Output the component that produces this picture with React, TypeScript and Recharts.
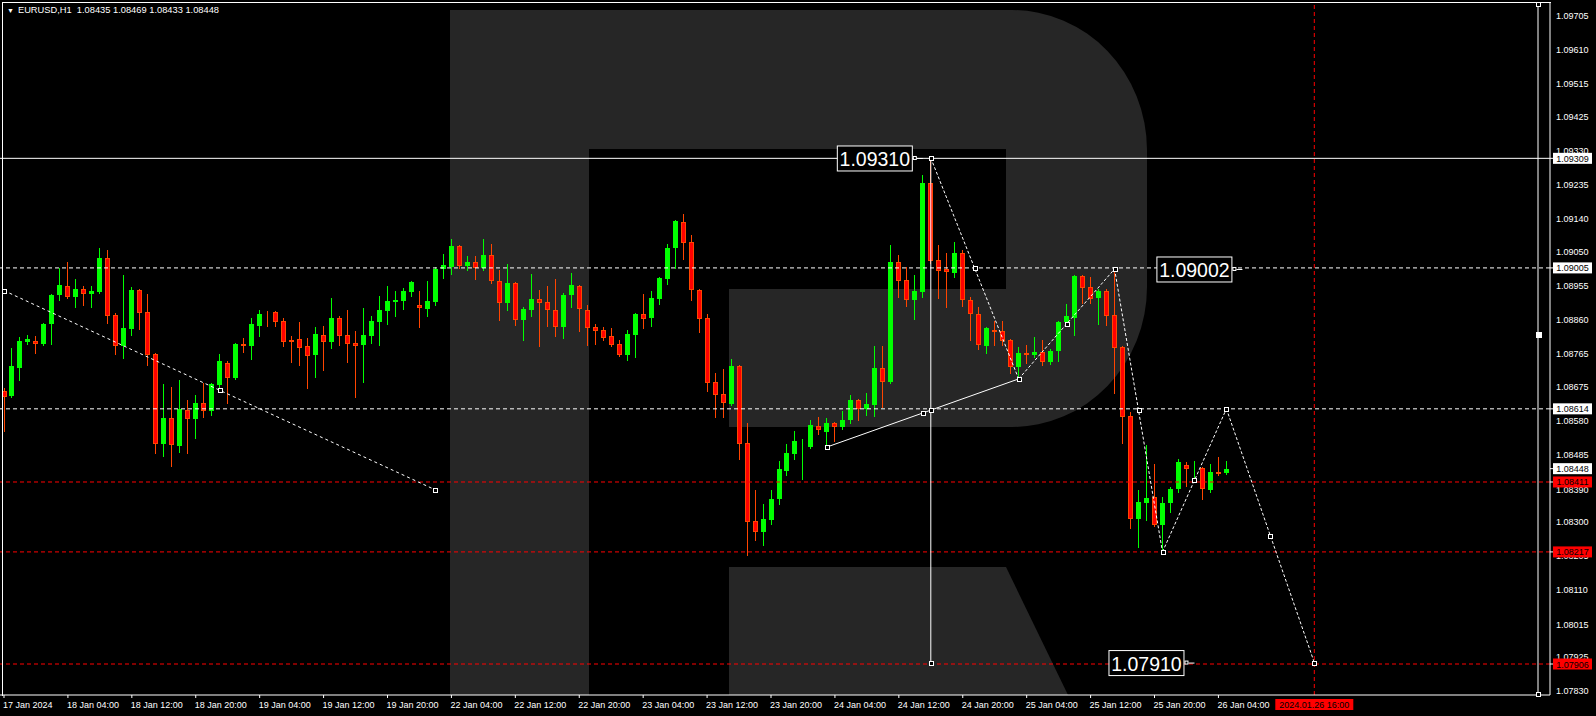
import { ComposedChart, Bar, XAxis, YAxis, ReferenceLine, ReferenceDot } from 'recharts';

// EURUSD H1 candles, 17 Jan 20:00 .. 26 Jan 05:00
const opens = [
  1.08663, 1.0865, 1.08727, 1.08799, 1.08802, 1.08794, 1.08849, 1.0893, 1.08955, 1.08924,
  1.08946, 1.08933, 1.08938, 1.09033, 1.08874, 1.08788, 1.08835, 1.08944, 1.08883, 1.08766,
  1.08516, 1.08589, 1.08511, 1.08611, 1.08586, 1.0863, 1.08608, 1.0868, 1.08741, 1.087,
  1.08794, 1.08788, 1.08844, 1.08874, 1.08883, 1.08858, 1.08805, 1.08808, 1.08788, 1.08763,
  1.08819, 1.08799, 1.08866, 1.08819, 1.08797, 1.08791, 1.08816, 1.08855, 1.08885, 1.0891,
  1.08913, 1.08938, 1.08902, 1.08891, 1.0891, 1.09002, 1.09008, 1.09066, 1.0901, 1.09021,
  1.09005, 1.09041, 1.08969, 1.08908, 1.08963, 1.0886, 1.08888, 1.08919, 1.0891, 1.08888,
  1.08841, 1.0893, 1.08955, 1.08888, 1.08841, 1.08833, 1.08816, 1.08794, 1.08763, 1.08819,
  1.08877, 1.08866, 1.08919, 1.08974, 1.0906, 1.09132, 1.09077, 1.08944, 1.08866, 1.08688,
  1.08655, 1.08627, 1.08733, 1.08519, 1.08303, 1.08272, 1.08305, 1.08364, 1.08441, 1.08489,
  1.08505, 1.08508, 1.08566, 1.0855, 1.08575, 1.08564, 1.08583, 1.08638, 1.08614, 1.08625,
  1.08727, 1.08688, 1.09021, 1.08972, 1.08916, 1.08938, 1.09241, 1.09027, 1.09002, 1.08991,
  1.09046, 1.08916, 1.08877, 1.08788, 1.08833, 1.0883, 1.08805, 1.0873, 1.08769, 1.08763,
  1.08772, 1.08744, 1.08774, 1.08855, 1.08866, 1.08983, 1.08952, 1.08922, 1.08941, 1.08874,
  1.08786, 1.08594, 1.08308, 1.08353, 1.08369, 1.08292, 1.08353, 1.08392, 1.08458, 1.08447,
  1.0845, 1.08389, 1.08439, 1.08435,
];
const highs = [
  1.08672, 1.08783, 1.08813, 1.08819, 1.08816, 1.08852, 1.08933, 1.09005, 1.09021, 1.08974,
  1.08955, 1.08955, 1.0906, 1.09055, 1.0888, 1.08985, 1.08952, 1.08946, 1.08933, 1.08769,
  1.08683, 1.08675, 1.08694, 1.08638, 1.08652, 1.08686, 1.08686, 1.08766, 1.08747, 1.08797,
  1.0881, 1.08866, 1.08888, 1.08885, 1.08885, 1.08866, 1.08816, 1.08855, 1.0881, 1.08841,
  1.08844, 1.08922, 1.08872, 1.08888, 1.0883, 1.08894, 1.08872, 1.08927, 1.08955, 1.08941,
  1.08949, 1.08969, 1.08941, 1.08969, 1.09008, 1.09044, 1.09085, 1.09069, 1.09038, 1.09038,
  1.09085, 1.09071, 1.08999, 1.09016, 1.08966, 1.08897, 1.08988, 1.08944, 1.08955, 1.08974,
  1.08935, 1.08991, 1.08958, 1.08902, 1.08849, 1.08841, 1.08838, 1.08805, 1.08833, 1.0888,
  1.08933, 1.08941, 1.0898, 1.09071, 1.09138, 1.09155, 1.09096, 1.08946, 1.08877, 1.08713,
  1.08725, 1.08752, 1.08736, 1.08575, 1.08389, 1.0835, 1.08389, 1.08469, 1.08516, 1.08552,
  1.0853, 1.08583, 1.08591, 1.08589, 1.08577, 1.08608, 1.08652, 1.08641, 1.08658, 1.08788,
  1.08788, 1.09069, 1.09041, 1.09008, 1.08985, 1.09263, 1.0931, 1.09069, 1.09046, 1.09077,
  1.09055, 1.08924, 1.08897, 1.08841, 1.08858, 1.08858, 1.08808, 1.08786, 1.08791, 1.08813,
  1.08805, 1.0878, 1.08858, 1.08905, 1.08985, 1.08985, 1.0898, 1.08946, 1.08946, 1.09002,
  1.08788, 1.08605, 1.08389, 1.08514, 1.08461, 1.08369, 1.08397, 1.08475, 1.08466, 1.08469,
  1.08453, 1.08461, 1.0848, 1.08469,
];
const lows = [
  1.08552, 1.08648, 1.08694, 1.08794, 1.08769, 1.08792, 1.08794, 1.08916, 1.08922, 1.08897,
  1.08902, 1.08897, 1.08935, 1.08852, 1.08766, 1.08755, 1.08819, 1.08835, 1.08736, 1.08491,
  1.08483, 1.08455, 1.08494, 1.08491, 1.08533, 1.08591, 1.08597, 1.08669, 1.0863, 1.08697,
  1.08772, 1.08752, 1.08816, 1.08844, 1.08844, 1.08788, 1.08744, 1.08736, 1.08672, 1.08702,
  1.08722, 1.08783, 1.08791, 1.08744, 1.08647, 1.08688, 1.08797, 1.08791, 1.08849, 1.08872,
  1.08891, 1.08927, 1.08841, 1.08872, 1.08902, 1.08977, 1.08988, 1.09005, 1.08999, 1.08974,
  1.08999, 1.08963, 1.0886, 1.08888, 1.08847, 1.08805, 1.08872, 1.08788, 1.08844, 1.08816,
  1.0881, 1.08897, 1.0883, 1.08791, 1.08794, 1.08805, 1.08788, 1.08761, 1.0875, 1.08758,
  1.08838, 1.08844, 1.08905, 1.0896, 1.09005, 1.0903, 1.08916, 1.08827, 1.08663, 1.08591,
  1.08591, 1.08624, 1.08475, 1.08209, 1.0825, 1.08236, 1.08294, 1.0835, 1.0843, 1.08475,
  1.08419, 1.08505, 1.08544, 1.08508, 1.08525, 1.08558, 1.08575, 1.08583, 1.08597, 1.08594,
  1.08619, 1.08685, 1.08924, 1.08899, 1.08863, 1.08924, 1.09018, 1.08922, 1.08897, 1.0898,
  1.08899, 1.08805, 1.0878, 1.08769, 1.08791, 1.08791, 1.08713, 1.08702, 1.08741, 1.08758,
  1.08736, 1.08738, 1.08747, 1.08844, 1.08819, 1.08908, 1.08908, 1.08849, 1.08847, 1.08658,
  1.08519, 1.08283, 1.08231, 1.08305, 1.08289, 1.08217, 1.08328, 1.08383, 1.084, 1.08422,
  1.08364, 1.08383, 1.0843, 1.08433,
];
const closes = [
  1.08647, 1.08733, 1.08802, 1.08808, 1.08794, 1.08849, 1.0893, 1.08958, 1.08924, 1.08946,
  1.08933, 1.08941, 1.09033, 1.08872, 1.08788, 1.08838, 1.08944, 1.0888, 1.08763, 1.08516,
  1.08589, 1.08514, 1.08614, 1.08586, 1.0863, 1.08608, 1.08683, 1.08747, 1.087, 1.08794,
  1.08788, 1.08849, 1.08877, 1.08872, 1.08855, 1.08799, 1.08799, 1.08783, 1.08761, 1.08822,
  1.08799, 1.08866, 1.08816, 1.08794, 1.08788, 1.08819, 1.08858, 1.08888, 1.08913, 1.08916,
  1.08941, 1.08966, 1.08894, 1.08913, 1.09002, 1.09013, 1.09066, 1.0901, 1.09021, 1.09005,
  1.09041, 1.08969, 1.08908, 1.08963, 1.0886, 1.08891, 1.08919, 1.08908, 1.08888, 1.08841,
  1.0893, 1.08958, 1.08891, 1.08838, 1.0883, 1.0881, 1.08791, 1.08763, 1.08822, 1.08877,
  1.08863, 1.08922, 1.08977, 1.0906, 1.09135, 1.09074, 1.08944, 1.08863, 1.08686, 1.08652,
  1.0863, 1.08733, 1.08516, 1.083, 1.08272, 1.08308, 1.08364, 1.08447, 1.08491, 1.08525,
  1.08508, 1.08569, 1.08555, 1.08575, 1.08564, 1.08583, 1.08638, 1.08614, 1.08627, 1.08727,
  1.08688, 1.09021, 1.08969, 1.08916, 1.08941, 1.09241, 1.09024, 1.08996, 1.08994, 1.09046,
  1.08916, 1.08877, 1.08791, 1.08838, 1.08827, 1.08802, 1.0873, 1.08769, 1.08763, 1.08772,
  1.08744, 1.08774, 1.08855, 1.08872, 1.08983, 1.08949, 1.08919, 1.08941, 1.08872, 1.08783,
  1.08591, 1.08308, 1.08355, 1.08367, 1.08292, 1.08353, 1.08392, 1.08466, 1.08447, 1.0845,
  1.08392, 1.08439, 1.08433, 1.08448,
];

const tickIdx = [0, 8, 16, 24, 32, 40, 48, 56, 64, 72, 80, 88, 96, 104, 112, 120, 128, 136, 144, 152];
const tickLabels = [
  '17 Jan 2024', '18 Jan 04:00', '18 Jan 12:00', '18 Jan 20:00', '19 Jan 04:00', '19 Jan 12:00',
  '19 Jan 20:00', '22 Jan 04:00', '22 Jan 12:00', '22 Jan 20:00', '23 Jan 04:00', '23 Jan 12:00',
  '23 Jan 20:00', '24 Jan 04:00', '24 Jan 12:00', '24 Jan 20:00', '25 Jan 04:00', '25 Jan 12:00',
  '25 Jan 20:00', '26 Jan 04:00',
];
const priceTicks = [
  1.09705, 1.0961, 1.09515, 1.09425, 1.0933, 1.09235, 1.0914, 1.0905, 1.08955, 1.0886, 1.08765,
  1.08675, 1.0858, 1.08485, 1.0839, 1.083, 1.08205, 1.0811, 1.08015, 1.07925, 1.0783,
];

const highLevel = 1.09309;
const whiteLevels = [1.09005, 1.08614];
const redLevels = [1.08411, 1.08217, 1.07906];
const lastPrice = 1.08448;

// forecast zigzag
const zigIdx = [116, 127, 139, 145, 153, 164];
const zigPrice = [1.0931, 1.08697, 1.09002, 1.08217, 1.08614, 1.0791];
const trendIdx = [0, 54];
const trendPrice = [1.08942, 1.08389];
const solidIdx = [103, 127];
const solidPrice = [1.08508, 1.08697];
const vertIdx = 116;
const vertPrice = [1.0931, 1.0791];
const edgeIdx = 192;
const edgePrice = [1.09737, 1.07823];
const edgeMark = 1.08822;
const crossIdx = 164;
const crossLabel = '2024.01.26 16:00';
const labelIdx = [114, 154, 148];
const labelPrice = [1.0931, 1.09002, 1.0791];

const header = 'EURUSD,H1  1.08435 1.08469 1.08433 1.08448';

const candles = opens.map((o, i) => ({
  idx: i,
  o,
  h: highs[i],
  l: lows[i],
  c: closes[i],
  range: [lows[i], highs[i]],
}));

const FONT = '"Liberation Sans", Arial, sans-serif';
const WHITE = '#ffffff';
const RED = '#ff0000';
const AXIS_X = 193.5; // right edge of the plot

function Candle(props: any) {
  const { x, y, width, height, payload } = props;
  if (!payload || x == null) return null;
  const { o, h, l, c } = payload;
  const top = Math.min(y, y + height);
  const span = Math.abs(height);
  const py = (v: number) => (h === l ? top : top + ((h - v) / (h - l)) * span);
  const cx = Math.round(x + width / 2);
  const up = c >= o;
  const bTop = Math.round(py(Math.max(o, c)));
  const bBot = Math.max(bTop + 1, Math.round(py(Math.min(o, c))));
  const wick = up ? '#00ff00' : '#ff4500';
  const fill = up ? '#00ff00' : RED;
  return (
    <g>
      <line x1={cx + 0.5} x2={cx + 0.5} y1={Math.round(top)} y2={Math.round(top + span) + 1} stroke={wick} />
      <rect x={cx - 1.5} y={bTop + 0.5} width={4} height={Math.max(bBot - bTop - 1, 0)} fill={fill} stroke={wick} />
    </g>
  );
}

function XTick(props: any) {
  const { x, y, payload } = props;
  const k = tickIdx.indexOf(payload.value);
  return (
    <text x={x - 1} y={y + 8} fill={WHITE} fontSize={9} fontFamily={FONT} textAnchor="start">
      {k >= 0 ? tickLabels[k] : ''}
    </text>
  );
}

// price scale text, drawn as reference dots so that the level boxes can cover it
const priceText = (v: number) => (p: any) => (
  <text x={p.cx + 6} y={p.cy + 3} fill={WHITE} fontSize={9} fontFamily={FONT} textAnchor="start">
    {v.toFixed(5)}
  </text>
);

const axisBox = (text: string, bg: string) => (p: any) => (
  <g>
    <line x1={p.cx} x2={p.cx + 3} y1={p.cy} y2={p.cy} stroke={WHITE} />
    <rect x={p.cx + 3} y={p.cy - 5.5} width={39} height={11} fill={bg} />
    <text x={p.cx + 22.5} y={p.cy + 3.5} fill="#000" fontSize={9} fontFamily={FONT} textAnchor="middle">
      {text}
    </text>
  </g>
);

const bigBox = (text: string) => (p: any) => (
  <g>
    <rect x={p.cx - 77.5} y={p.cy - 12} width={75} height={25} fill="#000" stroke={WHITE} />
    <text x={p.cx - 40} y={p.cy + 8} fill={WHITE} fontSize={19.5} fontFamily={FONT} textAnchor="middle">
      {text}
    </text>
    <rect x={p.cx - 1.5} y={p.cy - 1.5} width={3} height={3} fill="#000" stroke={WHITE} />
    <line x1={p.cx + 2} x2={p.cx + 8} y1={p.cy + 0.5} y2={p.cy + 0.5} stroke={WHITE} />
  </g>
);

const timeBox = (p: any) => (
  <g>
    <rect x={p.cx - 39} y={p.cy + 4} width={78} height={11} fill={RED} />
    <text x={p.cx} y={p.cy + 13} fill="#000" fontSize={9} fontFamily={FONT} textAnchor="middle">
      {crossLabel}
    </text>
  </g>
);

const square = (filled: boolean) => (p: any) => (
  <rect
    x={Math.round(p.cx) - 2 + 0.5}
    y={Math.round(p.cy) - 2 + 0.5}
    width={filled ? 5 : 4}
    height={filled ? 5 : 4}
    fill={filled ? WHITE : '#000'}
    stroke={WHITE}
  />
);

// endpoints and midpoints of the drawn trend lines (MT4 selection handles)
function handles(xs: number[], ys: number[]) {
  const out: { x: number; y: number }[] = [];
  for (let i = 0; i < xs.length; i++) {
    out.push({ x: xs[i], y: ys[i] });
    if (i < xs.length - 1) out.push({ x: (xs[i] + xs[i + 1]) / 2, y: (ys[i] + ys[i + 1]) / 2 });
  }
  return out;
}

const markers = [
  ...handles(zigIdx, zigPrice),
  ...handles(trendIdx, trendPrice),
  ...handles(solidIdx, solidPrice),
  ...handles([vertIdx, vertIdx], vertPrice),
  { x: edgeIdx, y: edgePrice[0] },
  { x: edgeIdx, y: edgePrice[1] },
];

function Watermark() {
  return (
    <svg width={1596} height={716} style={{ position: 'absolute', left: 0, top: 0 }}>
      <rect x={450} y={10} width={139} height={685} fill="#262626" />
      <path
        d="M589,10 H1012 A135,140 0 0 1 1147,150 V287 A135,140 0 0 1 1012,427 H729 V289 H1006 V149 H589 Z"
        fill="#262626"
      />
      <path d="M729,567 H1006 L1068,695 H729 Z" fill="#262626" />
    </svg>
  );
}

export default function App() {
  return (
    <div style={{ position: 'absolute', left: 0, top: 0, width: 1596, height: 716, background: '#000', overflow: 'hidden' }}>
      <Watermark />
      <div style={{ position: 'absolute', left: 0, top: 0 }}>
        <ComposedChart width={1596} height={716} data={candles} margin={{ top: 3, right: 0, bottom: 0, left: 0 }}>
          <XAxis
            dataKey="idx"
            type="number"
            domain={[-0.5, 193.5]}
            allowDataOverflow
            ticks={tickIdx}
            interval={0}
            height={21}
            tickSize={3}
            tickMargin={2}
            axisLine={{ stroke: WHITE }}
            tickLine={{ stroke: WHITE }}
            tick={<XTick />}
          />
          <YAxis
            orientation="right"
            type="number"
            domain={[1.0782, 1.0974]}
            allowDataOverflow
            ticks={priceTicks}
            interval={0}
            width={46}
            tickSize={3}
            tickMargin={3}
            axisLine={{ stroke: WHITE }}
            tickLine={{ stroke: WHITE }}
            tick={false}
          />
          <Bar dataKey="range" barSize={5} shape={<Candle />} isAnimationActive={false} />

          <ReferenceLine y={highLevel} stroke={WHITE} ifOverflow="visible" />
          {whiteLevels.map((p) => (
            <ReferenceLine key={'w' + p} y={p} stroke={WHITE} strokeDasharray="4 3" ifOverflow="visible" />
          ))}
          {redLevels.map((p) => (
            <ReferenceLine key={'r' + p} y={p} stroke={RED} strokeDasharray="4 3" ifOverflow="visible" />
          ))}
          <ReferenceLine x={crossIdx} stroke={RED} strokeDasharray="4 3" ifOverflow="visible" />
          <ReferenceLine x={edgeIdx} stroke={WHITE} ifOverflow="visible" />
          <ReferenceLine
            segment={[{ x: vertIdx, y: vertPrice[0] }, { x: vertIdx, y: vertPrice[1] }]}
            stroke={WHITE}
            ifOverflow="visible"
          />
          <ReferenceLine
            segment={[{ x: solidIdx[0], y: solidPrice[0] }, { x: solidIdx[1], y: solidPrice[1] }]}
            stroke={WHITE}
            ifOverflow="visible"
          />
          <ReferenceLine
            segment={[{ x: trendIdx[0], y: trendPrice[0] }, { x: trendIdx[1], y: trendPrice[1] }]}
            stroke={WHITE}
            strokeDasharray="3 3"
            ifOverflow="visible"
          />
          {zigIdx.slice(0, -1).map((x, i) => (
            <ReferenceLine
              key={'z' + i}
              segment={[{ x, y: zigPrice[i] }, { x: zigIdx[i + 1], y: zigPrice[i + 1] }]}
              stroke={WHITE}
              strokeDasharray="3 2"
              ifOverflow="visible"
            />
          ))}

          {markers.map((m, i) => (
            <ReferenceDot key={'m' + i} x={m.x} y={m.y} r={2} ifOverflow="visible" shape={square(false)} />
          ))}
          <ReferenceDot x={edgeIdx} y={edgeMark} r={2} ifOverflow="visible" shape={square(true)} />

          {labelIdx.map((x, i) => (
            <ReferenceDot
              key={'b' + i}
              x={x}
              y={labelPrice[i]}
              r={2}
              ifOverflow="visible"
              shape={bigBox(labelPrice[i].toFixed(5))}
            />
          ))}

          {priceTicks.map((v) => (
            <ReferenceDot key={'t' + v} x={AXIS_X} y={v} r={2} ifOverflow="visible" shape={priceText(v)} />
          ))}

          <ReferenceDot x={AXIS_X} y={highLevel} r={2} ifOverflow="visible" shape={axisBox(highLevel.toFixed(5), WHITE)} />
          {whiteLevels.map((p) => (
            <ReferenceDot key={'aw' + p} x={AXIS_X} y={p} r={2} ifOverflow="visible" shape={axisBox(p.toFixed(5), WHITE)} />
          ))}
          {redLevels.map((p) => (
            <ReferenceDot key={'ar' + p} x={AXIS_X} y={p} r={2} ifOverflow="visible" shape={axisBox(p.toFixed(5), RED)} />
          ))}
          <ReferenceDot x={AXIS_X} y={lastPrice} r={2} ifOverflow="visible" shape={axisBox(lastPrice.toFixed(5), WHITE)} />
          <ReferenceDot x={crossIdx} y={1.0782} r={2} ifOverflow="visible" shape={timeBox} />
        </ComposedChart>
      </div>
      <div
        style={{
          position: 'absolute',
          left: 2,
          top: 2,
          width: 1548,
          height: 693,
          borderTop: '1px solid #fff',
          borderLeft: '1px solid #fff',
          pointerEvents: 'none',
        }}
      />
      <div
        style={{
          position: 'absolute',
          left: 7,
          top: 4,
          color: '#fff',
          fontFamily: FONT,
          fontSize: 9.3,
          whiteSpace: 'pre',
          lineHeight: '12px',
        }}
      >
        <span style={{ fontSize: 7, marginRight: 4 }}>▼</span>
        {header}
      </div>
    </div>
  );
}
